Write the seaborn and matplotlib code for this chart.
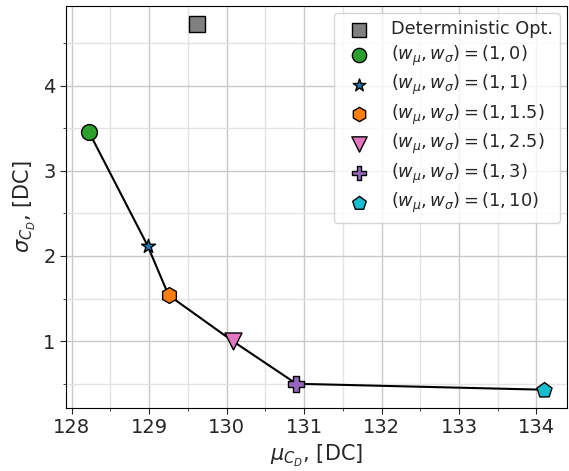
import matplotlib
matplotlib.use("Agg")
import matplotlib.pyplot as plt
import seaborn as sns
import pandas as pd
from matplotlib.ticker import MultipleLocator

sns.set_style("ticks")
plt.rcParams['font.family'] = ['DejaVu Sans']
plt.rcParams['mathtext.fontset'] = 'dejavusans'

det_mu = [129.62]
det_sigma = [4.72]

labels = [r"$(w_\mu, w_\sigma) = (1, 0)$", r"$(w_\mu, w_\sigma) = (1, 1)$",
          r"$(w_\mu, w_\sigma) = (1, 1.5)$", r"$(w_\mu, w_\sigma) = (1, 2.5)$",
          r"$(w_\mu, w_\sigma) = (1, 3)$", r"$(w_\mu, w_\sigma) = (1, 10)$"]
mu = [128.22, 128.98, 129.25, 130.08, 130.9, 134.1]
sigma = [3.46, 2.12, 1.54, 1.00, 0.50, 0.43]
markers = ["o", "*", "h", "v", "P", "p"]
colors = ["tab:green", "tab:blue", "tab:orange", "tab:pink", "tab:purple", "tab:cyan"]
sizes = [130, 110, 130, 150, 130, 130]

fig = plt.figure(figsize=(5.69, 4.71), dpi=100)
ax = fig.add_axes([66/569, 63/471, 501/569, 402/471])

df = pd.DataFrame({"mu": mu, "sigma": sigma})
sns.lineplot(data=df, x="mu", y="sigma", color="black", lw=1.5, sort=False, ax=ax, zorder=2)

sns.scatterplot(x=det_mu, y=det_sigma, marker="s", color="gray", edgecolor="black",
                s=130, linewidth=1, label="Deterministic Opt.", ax=ax, zorder=3)
for m, s_, mk, c, lab, sz in zip(mu, sigma, markers, colors, labels, sizes):
    sns.scatterplot(x=[m], y=[s_], marker=mk, color=c, edgecolor="black", s=sz,
                    linewidth=1, label=lab, ax=ax, zorder=3)

ax.xaxis.set_major_locator(MultipleLocator(1))
ax.xaxis.set_minor_locator(MultipleLocator(0.5))
ax.yaxis.set_major_locator(MultipleLocator(1))
ax.yaxis.set_minor_locator(MultipleLocator(0.5))
ax.grid(True, which="major", color="#c8c8c8", lw=1)
ax.grid(True, which="minor", color="#e3e3e3", lw=1)
ax.set_axisbelow(True)
for sp in ax.spines.values():
    sp.set_visible(True)
    sp.set_color("black")
ax.tick_params(axis="both", which="major", labelsize=14, direction="out", length=4)
ax.tick_params(axis="both", which="minor", length=2)
ax.set_xlabel(r"$\mu_{C_D}$, [DC]", fontsize=15)
ax.set_ylabel(r"$\sigma_{C_D}$, [DC]", fontsize=15)
ax.legend(loc="upper right", fontsize=12.8, frameon=True, framealpha=0.8,
          borderaxespad=0.4, labelspacing=0.3, markerscale=0.9)

fig.savefig("out.png", dpi=100)
